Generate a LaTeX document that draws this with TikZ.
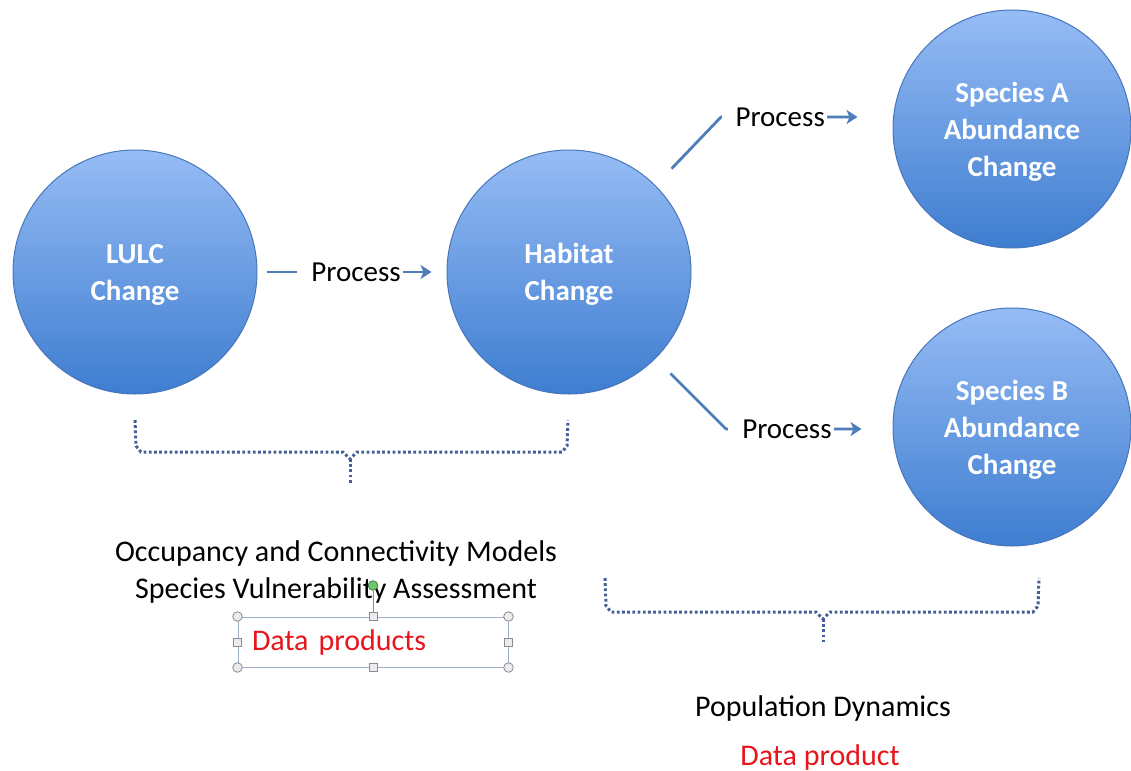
\documentclass[tikz,border=0pt]{standalone}
\usepackage{fontspec}
\setmainfont{Carlito}
\usetikzlibrary{arrows.meta,calc}

\definecolor{ballTop}{RGB}{150,188,245}
\definecolor{ballBot}{RGB}{62,125,208}
\definecolor{ballEdge}{RGB}{72,118,186}
\definecolor{flowBlue}{RGB}{79,125,185}
\definecolor{dotBlue}{RGB}{70,95,150}
\definecolor{dataRed}{RGB}{232,20,28}
\definecolor{selEdge}{RGB}{160,176,204}
\definecolor{handleGray}{RGB}{140,140,140}
\definecolor{rotGreen}{RGB}{110,200,110}

\begin{document}
\begin{tikzpicture}[x=0.5pt,y=-0.5pt,
    change/.style={circle,draw=ballEdge,line width=0.5pt,top color=ballTop,bottom color=ballBot,
        text=white,align=center,inner sep=0pt,text depth=0pt,font=\fontsize{14.5}{18.5}\selectfont\bfseries},
    flow/.style={draw=flowBlue,line width=1.4pt,-{Stealth[length=5.5pt,width=7pt,inset=1.5pt]}},
    proc/.style={fill=white,inner xsep=1pt,inner ysep=1pt,font=\fontsize{14.5}{18}\selectfont,
        execute at begin node={\hspace*{6pt}}},
    dotbrace/.style={draw=dotBlue,line width=1.5pt,dash pattern=on 1.4pt off 1.2pt},
    txt/.style={align=center,font=\fontsize{15}{18.5}\selectfont},
    handlecirc/.style={circle,draw=handleGray,fill=black!8,line width=0.4pt,minimum size=4.8pt,inner sep=0pt},
    handlesq/.style={rectangle,draw=handleGray,fill=black!8,line width=0.4pt,minimum size=4pt,inner sep=0pt}]
    \useasboundingbox (0,0) rectangle (1131,771);

    % the four changes
    \node[change,minimum size=122pt] (lulc) at (135,272) {LULC\\Change};
    \node[change,minimum size=122pt] (habitat) at (569,272) {Habitat\\Change};
    \node[change,minimum size=119pt] (spa) at (1012,129) {Species A\\Abundance\\Change};
    \node[change,minimum size=119pt] (spb) at (1012,427) {Species B\\Abundance\\Change};

    % processes
    \coordinate (ka) at (721,117);
    \coordinate (kb) at (726,429);
    \draw[flow,shorten <=4.5pt,shorten >=7.5pt] (lulc) -- node[proc,pos=.49]{Process} (habitat);
    \draw[flow,shorten <=11.5pt,shorten >=17.5pt] (habitat.45) -- (ka) -- node[proc,pos=.31]{Process} (ka -| spa.west);
    \draw[flow,shorten <=10.5pt,shorten >=15.5pt] (habitat.-45) -- (kb) -- node[proc,pos=.33]{Process} (kb -| spb.west);

    % dotted braces
    \draw[dotbrace] (135,420) -- (136,446) -- (141,452) -- (343,452) -- (350,459) -- (357,452) -- (562,452) -- (567,446) -- (568,420);
    \draw[dotbrace] (350,459) -- (350,483);
    \draw[dotbrace] (605,578) -- (606,606) -- (611,612) -- (816,612) -- (823,619) -- (830,612) -- (1033,612) -- (1038,606) -- (1039,578);
    \draw[dotbrace] (823,619) -- (823,642);

    % captions
    \node[txt] (models) at (336,572) {Occupancy and Connectivity Models\\Species Vulnerability Assessment};
    \node[draw=selEdge,line width=0.5pt,minimum width=135pt,minimum height=25pt,inner xsep=7pt,
        text width=121pt,align=left,text=dataRed,font=\fontsize{15}{18}\selectfont] (dp) at (373,642) {Data products};
    \node[circle,draw=rotGreen!60!black,fill=rotGreen,minimum size=4.8pt,inner sep=0pt] (rot) at ($(dp.north)+(0,-31)$) {};
    \draw[handleGray,line width=0.5pt] (rot) -- (dp.north);
    \foreach \a in {north west,north east,south west,south east}
        \node[handlecirc] at (dp.\a) {};
    \foreach \a in {north,south,west,east}
        \node[handlesq] at (dp.\a) {};

    \node[txt] (popdyn) at (823,708) {Population Dynamics};
    \node[txt,text=dataRed] (dprod) at (820,757) {Data product};
\end{tikzpicture}
\end{document}
